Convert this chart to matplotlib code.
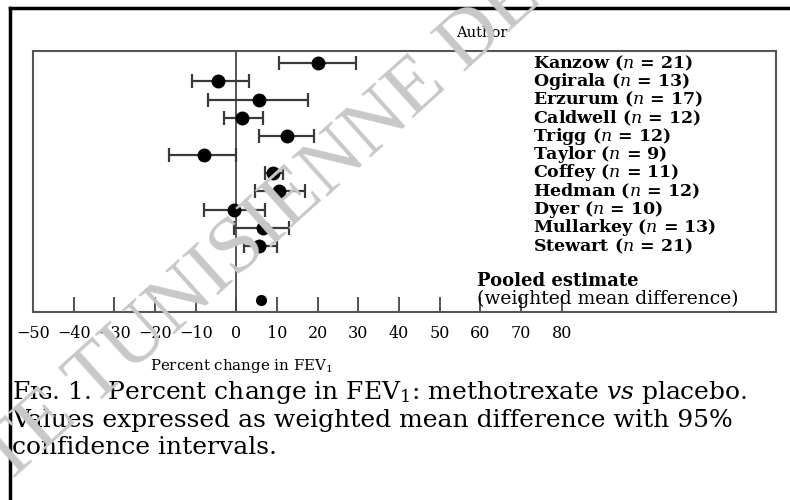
import matplotlib.pyplot as plt
from matplotlib.lines import Line2D

plt.rcParams['mathtext.fontset'] = 'custom'
plt.rcParams['mathtext.rm'] = 'DejaVu Serif'
plt.rcParams['mathtext.it'] = 'DejaVu Serif:italic'

authors = ['Kanzow', 'Ogirala', 'Erzurum', 'Caldwell', 'Trigg', 'Taylor',
           'Coffey', 'Hedman', 'Dyer', 'Mullarkey', 'Stewart']
n_patients = [21, 13, 17, 12, 12, 9, 11, 12, 10, 13, 21]
mean_diff = [20, -4.5, 5.5, 1.5, 12.5, -8, 9, 10.5, -0.5, 6.5, 5.5]
ci_low = [10.5, -11, -7, -3, 5.5, -16.5, 7, 4.5, -8, -0.5, 2]
ci_high = [29.5, 3, 17.5, 6.5, 19, 0, 11.5, 17, 7, 13, 10]
pooled = 6
xticks = [-50, -40, -30, -20, -10, 0, 10, 20, 30, 40, 50, 60, 70, 80]

fig = plt.figure(figsize=(7.9, 5.0), dpi=100)
W, H = 790, 500
ax = fig.add_axes([33 / W, 1 - 312 / H, (776 - 33) / W, (312 - 51) / H])

rows = list(range(len(authors)))
err = [[m - lo for m, lo in zip(mean_diff, ci_low)],
       [hi - m for m, hi in zip(mean_diff, ci_high)]]
ax.errorbar(mean_diff, rows, xerr=err, fmt='none', ecolor='#3a3a3a',
            elinewidth=1.6, capsize=5, capthick=1.6, zorder=2)
ax.plot(mean_diff, rows, 'o', color='black', markersize=9, zorder=3)
pooled_row = 12.95
ax.plot([pooled], [pooled_row], 'o', color='black', markersize=7, zorder=3)

ax.axvline(0, color='#555555', lw=1.4, zorder=1)
ax.set_xlim(-50, 132.7)
ax.set_ylim(13.6, -0.66)
ax.set_yticks([])
ax.set_xticks(xticks)
ax.set_xticklabels([f'\u2212{abs(t)}' if t < 0 else str(t) for t in xticks],
                   family='DejaVu Serif', fontsize=11.5)
ax.tick_params(axis='x', direction='in', length=11, width=1.3,
               color='#444444', pad=9)
for s in ax.spines.values():
    s.set_color('#555555')
    s.set_linewidth(1.5)

for r, a, n in zip(rows, authors, n_patients):
    ax.text(73, r, f'{a} ($\\it{{n}}$ = {n})', va='center', ha='left',
            family='DejaVu Serif', fontweight='bold', fontsize=12.5)
ax.text(54, -1.65, 'Author', va='center', ha='left', family='DejaVu Serif',
        fontsize=10.5, clip_on=False)
ax.text(59.2, 11.9, 'Pooled estimate', va='center', ha='left',
        family='DejaVu Serif', fontweight='bold', fontsize=13)
ax.text(59.2, 12.9, '(weighted mean difference)', va='center', ha='left',
        family='DejaVu Serif', fontsize=13.5)

fig.text(241 / W, 1 - 366 / H, 'Percent change in FEV$_1$', ha='center',
         va='center', family='DejaVu Serif', fontsize=10.8)

caption = ['F\u026a\u0262. 1.  Percent change in FEV$_1$: methotrexate $\\it{vs}$ placebo.',
           'Values expressed as weighted mean difference with 95%',
           'confidence intervals.']
for i, line in enumerate(caption):
    fig.text(12 / W, 1 - (393 + 27 * i) / H, line, ha='left', va='center',
             family='DejaVu Serif', fontsize=18)

# scan watermark
fig.text(262 / W, 1 - 229 / H, 'TE TUNISIENNE DE', rotation=42,
         rotation_mode='anchor', ha='center', va='center',
         family='Liberation Serif', fontsize=58, color='#c8c8c8', zorder=5)

# outer border of the scanned page
fig.add_artist(Line2D([10 / W, 1], [1 - 8 / H, 1 - 8 / H], color='black', lw=2.5))
fig.add_artist(Line2D([10 / W, 10 / W], [0, 1 - 8 / H], color='black', lw=2.5))

fig.savefig('out.png', dpi=100)
